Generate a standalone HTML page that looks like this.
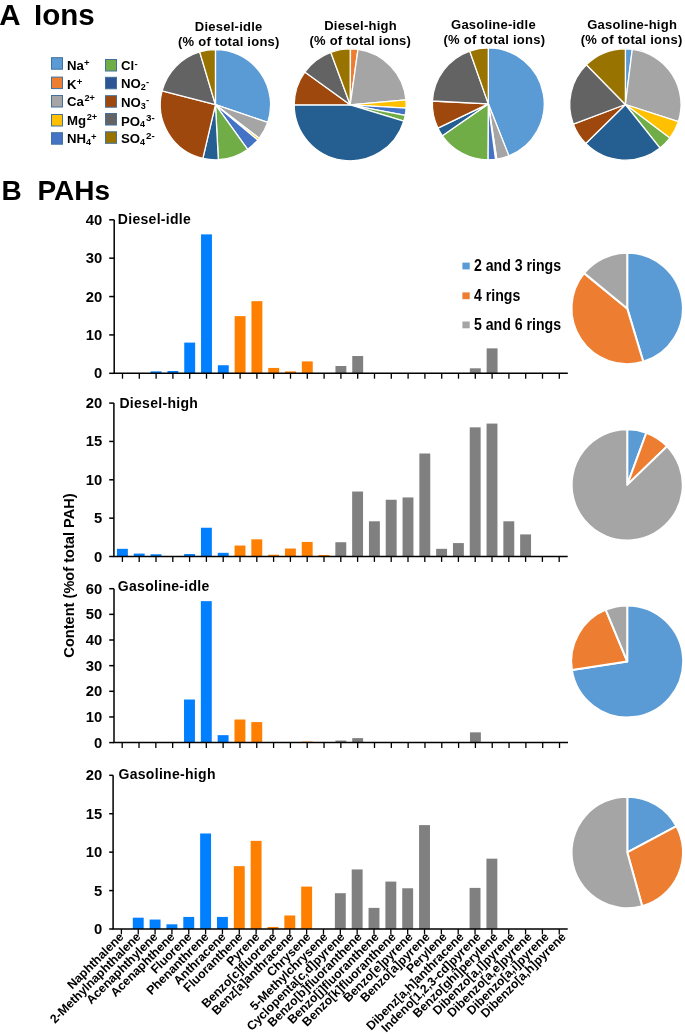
<!DOCTYPE html><html><head><meta charset="utf-8"><style>html,body{margin:0;padding:0;background:#fff;overflow:hidden;} svg{display:block;will-change:transform} text{font-family:"Liberation Sans",sans-serif;font-weight:bold;}</style></head><body>
<svg width="685" height="1034" viewBox="0 0 685 1034">
<rect width="685" height="1034" fill="#fff"/>
<text x="-0.8" y="24.8" font-size="29.5">A</text>
<text x="34" y="24.8" font-size="29.5">Ions</text>
<text x="1.5" y="199.8" font-size="28">B</text>
<text x="37.5" y="199.8" font-size="28">PAHs</text>
<rect x="51.5" y="57.7" width="11" height="11.5" fill="#5B9BD5" stroke="#41719C" stroke-width="1"/>
<text x="67" y="69.6" font-size="13.2">Na<tspan font-size="9.5" dx="0.2" dy="-3.8">+</tspan></text>
<rect x="51.5" y="77.1" width="11" height="11.5" fill="#ED7D31" stroke="#41719C" stroke-width="1"/>
<text x="67" y="88.6" font-size="13.2">K<tspan font-size="9.5" dx="0.2" dy="-3.8">+</tspan></text>
<rect x="51.5" y="95.5" width="11" height="11.5" fill="#A5A5A5" stroke="#41719C" stroke-width="1"/>
<text x="67" y="106.4" font-size="13.2">Ca<tspan font-size="9.2" dx="0.6" dy="-5.2">2+</tspan></text>
<rect x="51.5" y="114.5" width="11" height="11.5" fill="#FFC000" stroke="#41719C" stroke-width="1"/>
<text x="67" y="124.8" font-size="13.2">Mg<tspan font-size="9.2" dx="0.6" dy="-5.2">2+</tspan></text>
<rect x="51.5" y="132.7" width="11" height="11.5" fill="#4472C4" stroke="#41719C" stroke-width="1"/>
<text x="67" y="143.4" font-size="13.2">NH<tspan font-size="9" dy="1.9">4</tspan><tspan font-size="9.5" dx="0" dy="-5.4">+</tspan></text>
<rect x="105.5" y="59.5" width="11" height="11.5" fill="#70AD47" stroke="#41719C" stroke-width="1"/>
<text x="121" y="70.0" font-size="13.2">Cl<tspan font-size="9.5" dx="0.3" dy="-3.5">-</tspan></text>
<rect x="105.5" y="77.3" width="11" height="11.5" fill="#2D5596" stroke="#41719C" stroke-width="1"/>
<text x="121" y="88.3" font-size="13.2">NO<tspan font-size="9" dy="1.9">2</tspan><tspan font-size="9.5" dx="0.3" dy="-5.6">-</tspan></text>
<rect x="105.5" y="95.7" width="11" height="11.5" fill="#9E480E" stroke="#41719C" stroke-width="1"/>
<text x="121" y="106.7" font-size="13.2">NO<tspan font-size="9" dy="1.9">3</tspan><tspan font-size="9.5" dx="0.3" dy="-5.6">-</tspan></text>
<rect x="105.5" y="113.5" width="11" height="11.5" fill="#636363" stroke="#41719C" stroke-width="1"/>
<text x="121" y="125.5" font-size="13.2">PO<tspan font-size="9" dy="1.9">4</tspan><tspan font-size="9.8" dx="0.9" dy="-6.4">3-</tspan></text>
<rect x="105.5" y="131.8" width="11" height="11.5" fill="#997300" stroke="#41719C" stroke-width="1"/>
<text x="121" y="143.4" font-size="13.2">SO<tspan font-size="9" dy="1.9">4</tspan><tspan font-size="9.8" dx="0.9" dy="-6.4">2-</tspan></text>
<text x="228.67000000000002" y="31.0" font-size="13" letter-spacing="0.25" text-anchor="middle">Diesel-idle</text>
<text x="228.82" y="46.3" font-size="13" letter-spacing="0.25" text-anchor="middle">(% of total ions)</text>
<text x="360.57" y="29.6" font-size="13" letter-spacing="0.25" text-anchor="middle">Diesel-high</text>
<text x="360.27" y="44.6" font-size="13" letter-spacing="0.25" text-anchor="middle">(% of total ions)</text>
<text x="493.47" y="28.9" font-size="13" letter-spacing="0.25" text-anchor="middle">Gasoline-idle</text>
<text x="494.37" y="44.2" font-size="13" letter-spacing="0.25" text-anchor="middle">(% of total ions)</text>
<text x="632.12" y="28.7" font-size="13" letter-spacing="0.25" text-anchor="middle">Gasoline-high</text>
<text x="631.67" y="43.8" font-size="13" letter-spacing="0.25" text-anchor="middle">(% of total ions)</text>
<path d="M215.45,104.70 L215.45,49.55 A55.15,55.15 0 0 1 267.69,122.38 Z" fill="#5B9BD5" stroke="#fff" stroke-width="1.3" stroke-linejoin="round"/>
<path d="M215.45,104.70 L267.69,122.38 A55.15,55.15 0 0 1 259.14,138.35 Z" fill="#A5A5A5" stroke="#fff" stroke-width="1.3" stroke-linejoin="round"/>
<path d="M215.45,104.70 L259.14,138.35 A55.15,55.15 0 0 1 257.76,140.08 Z" fill="#FFC000" stroke="#fff" stroke-width="1.3" stroke-linejoin="round"/>
<path d="M215.45,104.70 L257.76,140.08 A55.15,55.15 0 0 1 247.63,149.49 Z" fill="#4472C4" stroke="#fff" stroke-width="1.3" stroke-linejoin="round"/>
<path d="M215.45,104.70 L247.63,149.49 A55.15,55.15 0 0 1 218.34,159.77 Z" fill="#70AD47" stroke="#fff" stroke-width="1.3" stroke-linejoin="round"/>
<path d="M215.45,104.70 L218.34,159.77 A55.15,55.15 0 0 1 202.86,158.39 Z" fill="#255E91" stroke="#fff" stroke-width="1.3" stroke-linejoin="round"/>
<path d="M215.45,104.70 L202.86,158.39 A55.15,55.15 0 0 1 162.06,90.89 Z" fill="#9E480E" stroke="#fff" stroke-width="1.3" stroke-linejoin="round"/>
<path d="M215.45,104.70 L162.06,90.89 A55.15,55.15 0 0 1 199.69,51.85 Z" fill="#636363" stroke="#fff" stroke-width="1.3" stroke-linejoin="round"/>
<path d="M215.45,104.70 L199.69,51.85 A55.15,55.15 0 0 1 215.45,49.55 Z" fill="#997300" stroke="#fff" stroke-width="1.3" stroke-linejoin="round"/>
<path d="M350.20,104.80 L350.20,48.80 A56.0,56.0 0 0 1 350.49,48.80 Z" fill="#5B9BD5" stroke="#fff" stroke-width="1.3" stroke-linejoin="round"/>
<path d="M350.20,104.80 L350.49,48.80 A56.0,56.0 0 0 1 357.99,49.34 Z" fill="#ED7D31" stroke="#fff" stroke-width="1.3" stroke-linejoin="round"/>
<path d="M350.20,104.80 L357.99,49.34 A56.0,56.0 0 0 1 405.99,99.92 Z" fill="#A5A5A5" stroke="#fff" stroke-width="1.3" stroke-linejoin="round"/>
<path d="M350.20,104.80 L405.99,99.92 A56.0,56.0 0 0 1 406.10,108.22 Z" fill="#FFC000" stroke="#fff" stroke-width="1.3" stroke-linejoin="round"/>
<path d="M350.20,104.80 L406.10,108.22 A56.0,56.0 0 0 1 405.21,115.29 Z" fill="#4472C4" stroke="#fff" stroke-width="1.3" stroke-linejoin="round"/>
<path d="M350.20,104.80 L405.21,115.29 A56.0,56.0 0 0 1 403.78,121.08 Z" fill="#70AD47" stroke="#fff" stroke-width="1.3" stroke-linejoin="round"/>
<path d="M350.20,104.80 L403.78,121.08 A56.0,56.0 0 0 1 294.20,104.80 Z" fill="#255E91" stroke="#fff" stroke-width="1.3" stroke-linejoin="round"/>
<path d="M350.20,104.80 L294.20,104.80 A56.0,56.0 0 0 1 304.78,72.04 Z" fill="#9E480E" stroke="#fff" stroke-width="1.3" stroke-linejoin="round"/>
<path d="M350.20,104.80 L304.78,72.04 A56.0,56.0 0 0 1 330.77,52.28 Z" fill="#636363" stroke="#fff" stroke-width="1.3" stroke-linejoin="round"/>
<path d="M350.20,104.80 L330.77,52.28 A56.0,56.0 0 0 1 350.20,48.80 Z" fill="#997300" stroke="#fff" stroke-width="1.3" stroke-linejoin="round"/>
<path d="M488.30,103.85 L488.30,47.90 A55.95,55.95 0 0 1 508.90,155.87 Z" fill="#5B9BD5" stroke="#fff" stroke-width="1.3" stroke-linejoin="round"/>
<path d="M488.30,103.85 L508.90,155.87 A55.95,55.95 0 0 1 496.76,159.16 Z" fill="#A5A5A5" stroke="#fff" stroke-width="1.3" stroke-linejoin="round"/>
<path d="M488.30,103.85 L496.76,159.16 A55.95,55.95 0 0 1 495.51,159.33 Z" fill="#FFC000" stroke="#fff" stroke-width="1.3" stroke-linejoin="round"/>
<path d="M488.30,103.85 L495.51,159.33 A55.95,55.95 0 0 1 487.91,159.80 Z" fill="#4472C4" stroke="#fff" stroke-width="1.3" stroke-linejoin="round"/>
<path d="M488.30,103.85 L487.91,159.80 A55.95,55.95 0 0 1 442.36,135.78 Z" fill="#70AD47" stroke="#fff" stroke-width="1.3" stroke-linejoin="round"/>
<path d="M488.30,103.85 L442.36,135.78 A55.95,55.95 0 0 1 437.88,128.11 Z" fill="#255E91" stroke="#fff" stroke-width="1.3" stroke-linejoin="round"/>
<path d="M488.30,103.85 L437.88,128.11 A55.95,55.95 0 0 1 432.42,101.02 Z" fill="#9E480E" stroke="#fff" stroke-width="1.3" stroke-linejoin="round"/>
<path d="M488.30,103.85 L432.42,101.02 A55.95,55.95 0 0 1 469.72,51.08 Z" fill="#636363" stroke="#fff" stroke-width="1.3" stroke-linejoin="round"/>
<path d="M488.30,103.85 L469.72,51.08 A55.95,55.95 0 0 1 488.30,47.90 Z" fill="#997300" stroke="#fff" stroke-width="1.3" stroke-linejoin="round"/>
<path d="M625.40,104.50 L625.40,48.85 A55.65,55.65 0 0 1 632.28,49.28 Z" fill="#5B9BD5" stroke="#fff" stroke-width="1.3" stroke-linejoin="round"/>
<path d="M625.40,104.50 L632.28,49.28 A55.65,55.65 0 0 1 678.33,121.70 Z" fill="#A5A5A5" stroke="#fff" stroke-width="1.3" stroke-linejoin="round"/>
<path d="M625.40,104.50 L678.33,121.70 A55.65,55.65 0 0 1 669.79,138.07 Z" fill="#FFC000" stroke="#fff" stroke-width="1.3" stroke-linejoin="round"/>
<path d="M625.40,104.50 L669.79,138.07 A55.65,55.65 0 0 1 660.04,148.05 Z" fill="#70AD47" stroke="#fff" stroke-width="1.3" stroke-linejoin="round"/>
<path d="M625.40,104.50 L660.04,148.05 A55.65,55.65 0 0 1 585.78,143.57 Z" fill="#255E91" stroke="#fff" stroke-width="1.3" stroke-linejoin="round"/>
<path d="M625.40,104.50 L585.78,143.57 A55.65,55.65 0 0 1 573.34,124.17 Z" fill="#9E480E" stroke="#fff" stroke-width="1.3" stroke-linejoin="round"/>
<path d="M625.40,104.50 L573.34,124.17 A55.65,55.65 0 0 1 586.39,64.81 Z" fill="#636363" stroke="#fff" stroke-width="1.3" stroke-linejoin="round"/>
<path d="M625.40,104.50 L586.39,64.81 A55.65,55.65 0 0 1 625.40,48.85 Z" fill="#997300" stroke="#fff" stroke-width="1.3" stroke-linejoin="round"/>
<rect x="150.65" y="371.38" width="10.9" height="1.92" fill="#007FFF"/>
<rect x="167.45" y="371.00" width="10.9" height="2.30" fill="#007FFF"/>
<rect x="184.25" y="342.60" width="10.9" height="30.70" fill="#007FFF"/>
<rect x="201.05" y="234.38" width="10.9" height="138.92" fill="#007FFF"/>
<rect x="217.85" y="365.24" width="10.9" height="8.06" fill="#007FFF"/>
<rect x="234.65" y="316.12" width="10.9" height="57.18" fill="#FF8000"/>
<rect x="251.45" y="301.16" width="10.9" height="72.14" fill="#FF8000"/>
<rect x="268.25" y="367.93" width="10.9" height="5.37" fill="#FF8000"/>
<rect x="285.05" y="371.38" width="10.9" height="1.92" fill="#FF8000"/>
<rect x="301.85" y="361.40" width="10.9" height="11.90" fill="#FF8000"/>
<rect x="335.45" y="366.01" width="10.9" height="7.29" fill="#808080"/>
<rect x="352.25" y="356.03" width="10.9" height="17.27" fill="#808080"/>
<rect x="469.85" y="368.31" width="10.9" height="4.99" fill="#808080"/>
<rect x="486.65" y="348.36" width="10.9" height="24.94" fill="#808080"/>
<path d="M114.2,219.8 V373.3 H567.80" fill="none" stroke="#000" stroke-width="1.5"/>
<line x1="109.2" y1="373.30" x2="114.2" y2="373.30" stroke="#000" stroke-width="1.5"/>
<text x="102.2" y="378.30" font-size="14.8" text-anchor="end">0</text>
<line x1="109.2" y1="334.93" x2="114.2" y2="334.93" stroke="#000" stroke-width="1.5"/>
<text x="102.2" y="339.93" font-size="14.8" text-anchor="end">10</text>
<line x1="109.2" y1="296.55" x2="114.2" y2="296.55" stroke="#000" stroke-width="1.5"/>
<text x="102.2" y="301.55" font-size="14.8" text-anchor="end">20</text>
<line x1="109.2" y1="258.18" x2="114.2" y2="258.18" stroke="#000" stroke-width="1.5"/>
<text x="102.2" y="263.18" font-size="14.8" text-anchor="end">30</text>
<line x1="109.2" y1="219.80" x2="114.2" y2="219.80" stroke="#000" stroke-width="1.5"/>
<text x="102.2" y="224.80" font-size="14.8" text-anchor="end">40</text>
<line x1="122.50" y1="373.3" x2="122.50" y2="378.7" stroke="#000" stroke-width="1.3"/>
<line x1="139.30" y1="373.3" x2="139.30" y2="378.7" stroke="#000" stroke-width="1.3"/>
<line x1="156.10" y1="373.3" x2="156.10" y2="378.7" stroke="#000" stroke-width="1.3"/>
<line x1="172.90" y1="373.3" x2="172.90" y2="378.7" stroke="#000" stroke-width="1.3"/>
<line x1="189.70" y1="373.3" x2="189.70" y2="378.7" stroke="#000" stroke-width="1.3"/>
<line x1="206.50" y1="373.3" x2="206.50" y2="378.7" stroke="#000" stroke-width="1.3"/>
<line x1="223.30" y1="373.3" x2="223.30" y2="378.7" stroke="#000" stroke-width="1.3"/>
<line x1="240.10" y1="373.3" x2="240.10" y2="378.7" stroke="#000" stroke-width="1.3"/>
<line x1="256.90" y1="373.3" x2="256.90" y2="378.7" stroke="#000" stroke-width="1.3"/>
<line x1="273.70" y1="373.3" x2="273.70" y2="378.7" stroke="#000" stroke-width="1.3"/>
<line x1="290.50" y1="373.3" x2="290.50" y2="378.7" stroke="#000" stroke-width="1.3"/>
<line x1="307.30" y1="373.3" x2="307.30" y2="378.7" stroke="#000" stroke-width="1.3"/>
<line x1="324.10" y1="373.3" x2="324.10" y2="378.7" stroke="#000" stroke-width="1.3"/>
<line x1="340.90" y1="373.3" x2="340.90" y2="378.7" stroke="#000" stroke-width="1.3"/>
<line x1="357.70" y1="373.3" x2="357.70" y2="378.7" stroke="#000" stroke-width="1.3"/>
<line x1="374.50" y1="373.3" x2="374.50" y2="378.7" stroke="#000" stroke-width="1.3"/>
<line x1="391.30" y1="373.3" x2="391.30" y2="378.7" stroke="#000" stroke-width="1.3"/>
<line x1="408.10" y1="373.3" x2="408.10" y2="378.7" stroke="#000" stroke-width="1.3"/>
<line x1="424.90" y1="373.3" x2="424.90" y2="378.7" stroke="#000" stroke-width="1.3"/>
<line x1="441.70" y1="373.3" x2="441.70" y2="378.7" stroke="#000" stroke-width="1.3"/>
<line x1="458.50" y1="373.3" x2="458.50" y2="378.7" stroke="#000" stroke-width="1.3"/>
<line x1="475.30" y1="373.3" x2="475.30" y2="378.7" stroke="#000" stroke-width="1.3"/>
<line x1="492.10" y1="373.3" x2="492.10" y2="378.7" stroke="#000" stroke-width="1.3"/>
<line x1="508.90" y1="373.3" x2="508.90" y2="378.7" stroke="#000" stroke-width="1.3"/>
<line x1="525.70" y1="373.3" x2="525.70" y2="378.7" stroke="#000" stroke-width="1.3"/>
<line x1="542.50" y1="373.3" x2="542.50" y2="378.7" stroke="#000" stroke-width="1.3"/>
<line x1="559.30" y1="373.3" x2="559.30" y2="378.7" stroke="#000" stroke-width="1.3"/>
<text x="117.8" y="223.5" font-size="14" letter-spacing="0.3">Diesel-idle</text>
<rect x="116.95" y="548.83" width="10.9" height="7.67" fill="#007FFF"/>
<rect x="133.75" y="553.59" width="10.9" height="2.91" fill="#007FFF"/>
<rect x="150.55" y="554.28" width="10.9" height="2.22" fill="#007FFF"/>
<rect x="184.15" y="554.05" width="10.9" height="2.45" fill="#007FFF"/>
<rect x="200.95" y="527.74" width="10.9" height="28.76" fill="#007FFF"/>
<rect x="217.75" y="552.82" width="10.9" height="3.68" fill="#007FFF"/>
<rect x="234.55" y="545.53" width="10.9" height="10.97" fill="#FF8000"/>
<rect x="251.35" y="539.32" width="10.9" height="17.18" fill="#FF8000"/>
<rect x="268.15" y="554.74" width="10.9" height="1.76" fill="#FF8000"/>
<rect x="284.95" y="548.52" width="10.9" height="7.98" fill="#FF8000"/>
<rect x="301.75" y="541.93" width="10.9" height="14.57" fill="#FF8000"/>
<rect x="318.55" y="554.97" width="10.9" height="1.53" fill="#FF8000"/>
<rect x="335.35" y="542.23" width="10.9" height="14.27" fill="#808080"/>
<rect x="352.15" y="491.54" width="10.9" height="64.96" fill="#808080"/>
<rect x="368.95" y="521.29" width="10.9" height="35.21" fill="#808080"/>
<rect x="385.75" y="499.74" width="10.9" height="56.76" fill="#808080"/>
<rect x="402.55" y="497.44" width="10.9" height="59.06" fill="#808080"/>
<rect x="419.35" y="453.49" width="10.9" height="103.01" fill="#808080"/>
<rect x="436.15" y="548.83" width="10.9" height="7.67" fill="#808080"/>
<rect x="452.95" y="543.08" width="10.9" height="13.42" fill="#808080"/>
<rect x="469.75" y="427.34" width="10.9" height="129.16" fill="#808080"/>
<rect x="486.55" y="423.58" width="10.9" height="132.92" fill="#808080"/>
<rect x="503.35" y="521.29" width="10.9" height="35.21" fill="#808080"/>
<rect x="520.15" y="534.41" width="10.9" height="22.09" fill="#808080"/>
<path d="M113.9,403.1 V556.5 H567.70" fill="none" stroke="#000" stroke-width="1.5"/>
<line x1="109.2" y1="556.50" x2="113.9" y2="556.50" stroke="#000" stroke-width="1.5"/>
<text x="102.2" y="561.50" font-size="14.8" text-anchor="end">0</text>
<line x1="109.2" y1="518.15" x2="113.9" y2="518.15" stroke="#000" stroke-width="1.5"/>
<text x="102.2" y="523.15" font-size="14.8" text-anchor="end">5</text>
<line x1="109.2" y1="479.80" x2="113.9" y2="479.80" stroke="#000" stroke-width="1.5"/>
<text x="102.2" y="484.80" font-size="14.8" text-anchor="end">10</text>
<line x1="109.2" y1="441.45" x2="113.9" y2="441.45" stroke="#000" stroke-width="1.5"/>
<text x="102.2" y="446.45" font-size="14.8" text-anchor="end">15</text>
<line x1="109.2" y1="403.10" x2="113.9" y2="403.10" stroke="#000" stroke-width="1.5"/>
<text x="102.2" y="408.10" font-size="14.8" text-anchor="end">20</text>
<line x1="122.40" y1="556.5" x2="122.40" y2="561.9" stroke="#000" stroke-width="1.3"/>
<line x1="139.20" y1="556.5" x2="139.20" y2="561.9" stroke="#000" stroke-width="1.3"/>
<line x1="156.00" y1="556.5" x2="156.00" y2="561.9" stroke="#000" stroke-width="1.3"/>
<line x1="172.80" y1="556.5" x2="172.80" y2="561.9" stroke="#000" stroke-width="1.3"/>
<line x1="189.60" y1="556.5" x2="189.60" y2="561.9" stroke="#000" stroke-width="1.3"/>
<line x1="206.40" y1="556.5" x2="206.40" y2="561.9" stroke="#000" stroke-width="1.3"/>
<line x1="223.20" y1="556.5" x2="223.20" y2="561.9" stroke="#000" stroke-width="1.3"/>
<line x1="240.00" y1="556.5" x2="240.00" y2="561.9" stroke="#000" stroke-width="1.3"/>
<line x1="256.80" y1="556.5" x2="256.80" y2="561.9" stroke="#000" stroke-width="1.3"/>
<line x1="273.60" y1="556.5" x2="273.60" y2="561.9" stroke="#000" stroke-width="1.3"/>
<line x1="290.40" y1="556.5" x2="290.40" y2="561.9" stroke="#000" stroke-width="1.3"/>
<line x1="307.20" y1="556.5" x2="307.20" y2="561.9" stroke="#000" stroke-width="1.3"/>
<line x1="324.00" y1="556.5" x2="324.00" y2="561.9" stroke="#000" stroke-width="1.3"/>
<line x1="340.80" y1="556.5" x2="340.80" y2="561.9" stroke="#000" stroke-width="1.3"/>
<line x1="357.60" y1="556.5" x2="357.60" y2="561.9" stroke="#000" stroke-width="1.3"/>
<line x1="374.40" y1="556.5" x2="374.40" y2="561.9" stroke="#000" stroke-width="1.3"/>
<line x1="391.20" y1="556.5" x2="391.20" y2="561.9" stroke="#000" stroke-width="1.3"/>
<line x1="408.00" y1="556.5" x2="408.00" y2="561.9" stroke="#000" stroke-width="1.3"/>
<line x1="424.80" y1="556.5" x2="424.80" y2="561.9" stroke="#000" stroke-width="1.3"/>
<line x1="441.60" y1="556.5" x2="441.60" y2="561.9" stroke="#000" stroke-width="1.3"/>
<line x1="458.40" y1="556.5" x2="458.40" y2="561.9" stroke="#000" stroke-width="1.3"/>
<line x1="475.20" y1="556.5" x2="475.20" y2="561.9" stroke="#000" stroke-width="1.3"/>
<line x1="492.00" y1="556.5" x2="492.00" y2="561.9" stroke="#000" stroke-width="1.3"/>
<line x1="508.80" y1="556.5" x2="508.80" y2="561.9" stroke="#000" stroke-width="1.3"/>
<line x1="525.60" y1="556.5" x2="525.60" y2="561.9" stroke="#000" stroke-width="1.3"/>
<line x1="542.40" y1="556.5" x2="542.40" y2="561.9" stroke="#000" stroke-width="1.3"/>
<line x1="559.20" y1="556.5" x2="559.20" y2="561.9" stroke="#000" stroke-width="1.3"/>
<text x="119.4" y="407.6" font-size="14" letter-spacing="0.3">Diesel-high</text>
<rect x="184.03" y="699.51" width="10.9" height="43.09" fill="#007FFF"/>
<rect x="200.85" y="601.14" width="10.9" height="141.46" fill="#007FFF"/>
<rect x="217.67" y="735.16" width="10.9" height="7.44" fill="#007FFF"/>
<rect x="234.49" y="719.51" width="10.9" height="23.08" fill="#FF8000"/>
<rect x="251.31" y="722.08" width="10.9" height="20.52" fill="#FF8000"/>
<rect x="301.77" y="741.57" width="10.9" height="1.03" fill="#FF8000"/>
<rect x="335.41" y="740.55" width="10.9" height="2.05" fill="#808080"/>
<rect x="352.23" y="738.11" width="10.9" height="4.49" fill="#808080"/>
<rect x="469.97" y="732.34" width="10.9" height="10.26" fill="#808080"/>
<path d="M114.0,588.7 V742.6 H568.02" fill="none" stroke="#000" stroke-width="1.5"/>
<line x1="109.2" y1="742.60" x2="114.0" y2="742.60" stroke="#000" stroke-width="1.5"/>
<text x="102.2" y="747.60" font-size="14.8" text-anchor="end">0</text>
<line x1="109.2" y1="716.95" x2="114.0" y2="716.95" stroke="#000" stroke-width="1.5"/>
<text x="102.2" y="721.95" font-size="14.8" text-anchor="end">10</text>
<line x1="109.2" y1="691.30" x2="114.0" y2="691.30" stroke="#000" stroke-width="1.5"/>
<text x="102.2" y="696.30" font-size="14.8" text-anchor="end">20</text>
<line x1="109.2" y1="665.65" x2="114.0" y2="665.65" stroke="#000" stroke-width="1.5"/>
<text x="102.2" y="670.65" font-size="14.8" text-anchor="end">30</text>
<line x1="109.2" y1="640.00" x2="114.0" y2="640.00" stroke="#000" stroke-width="1.5"/>
<text x="102.2" y="645.00" font-size="14.8" text-anchor="end">40</text>
<line x1="109.2" y1="614.35" x2="114.0" y2="614.35" stroke="#000" stroke-width="1.5"/>
<text x="102.2" y="619.35" font-size="14.8" text-anchor="end">50</text>
<line x1="109.2" y1="588.70" x2="114.0" y2="588.70" stroke="#000" stroke-width="1.5"/>
<text x="102.2" y="593.70" font-size="14.8" text-anchor="end">60</text>
<line x1="122.20" y1="742.6" x2="122.20" y2="748.0" stroke="#000" stroke-width="1.3"/>
<line x1="139.02" y1="742.6" x2="139.02" y2="748.0" stroke="#000" stroke-width="1.3"/>
<line x1="155.84" y1="742.6" x2="155.84" y2="748.0" stroke="#000" stroke-width="1.3"/>
<line x1="172.66" y1="742.6" x2="172.66" y2="748.0" stroke="#000" stroke-width="1.3"/>
<line x1="189.48" y1="742.6" x2="189.48" y2="748.0" stroke="#000" stroke-width="1.3"/>
<line x1="206.30" y1="742.6" x2="206.30" y2="748.0" stroke="#000" stroke-width="1.3"/>
<line x1="223.12" y1="742.6" x2="223.12" y2="748.0" stroke="#000" stroke-width="1.3"/>
<line x1="239.94" y1="742.6" x2="239.94" y2="748.0" stroke="#000" stroke-width="1.3"/>
<line x1="256.76" y1="742.6" x2="256.76" y2="748.0" stroke="#000" stroke-width="1.3"/>
<line x1="273.58" y1="742.6" x2="273.58" y2="748.0" stroke="#000" stroke-width="1.3"/>
<line x1="290.40" y1="742.6" x2="290.40" y2="748.0" stroke="#000" stroke-width="1.3"/>
<line x1="307.22" y1="742.6" x2="307.22" y2="748.0" stroke="#000" stroke-width="1.3"/>
<line x1="324.04" y1="742.6" x2="324.04" y2="748.0" stroke="#000" stroke-width="1.3"/>
<line x1="340.86" y1="742.6" x2="340.86" y2="748.0" stroke="#000" stroke-width="1.3"/>
<line x1="357.68" y1="742.6" x2="357.68" y2="748.0" stroke="#000" stroke-width="1.3"/>
<line x1="374.50" y1="742.6" x2="374.50" y2="748.0" stroke="#000" stroke-width="1.3"/>
<line x1="391.32" y1="742.6" x2="391.32" y2="748.0" stroke="#000" stroke-width="1.3"/>
<line x1="408.14" y1="742.6" x2="408.14" y2="748.0" stroke="#000" stroke-width="1.3"/>
<line x1="424.96" y1="742.6" x2="424.96" y2="748.0" stroke="#000" stroke-width="1.3"/>
<line x1="441.78" y1="742.6" x2="441.78" y2="748.0" stroke="#000" stroke-width="1.3"/>
<line x1="458.60" y1="742.6" x2="458.60" y2="748.0" stroke="#000" stroke-width="1.3"/>
<line x1="475.42" y1="742.6" x2="475.42" y2="748.0" stroke="#000" stroke-width="1.3"/>
<line x1="492.24" y1="742.6" x2="492.24" y2="748.0" stroke="#000" stroke-width="1.3"/>
<line x1="509.06" y1="742.6" x2="509.06" y2="748.0" stroke="#000" stroke-width="1.3"/>
<line x1="525.88" y1="742.6" x2="525.88" y2="748.0" stroke="#000" stroke-width="1.3"/>
<line x1="542.70" y1="742.6" x2="542.70" y2="748.0" stroke="#000" stroke-width="1.3"/>
<line x1="559.52" y1="742.6" x2="559.52" y2="748.0" stroke="#000" stroke-width="1.3"/>
<text x="117.8" y="591.2" font-size="14" letter-spacing="0.3">Gasoline-idle</text>
<rect x="132.79" y="917.70" width="10.9" height="11.30" fill="#007FFF"/>
<rect x="149.63" y="919.55" width="10.9" height="9.45" fill="#007FFF"/>
<rect x="166.47" y="924.31" width="10.9" height="4.69" fill="#007FFF"/>
<rect x="183.31" y="916.93" width="10.9" height="12.07" fill="#007FFF"/>
<rect x="200.15" y="833.48" width="10.9" height="95.52" fill="#007FFF"/>
<rect x="216.99" y="916.93" width="10.9" height="12.07" fill="#007FFF"/>
<rect x="233.83" y="866.14" width="10.9" height="62.86" fill="#FF8000"/>
<rect x="250.67" y="840.85" width="10.9" height="88.15" fill="#FF8000"/>
<rect x="267.51" y="926.93" width="10.9" height="2.07" fill="#FF8000"/>
<rect x="284.35" y="915.47" width="10.9" height="13.53" fill="#FF8000"/>
<rect x="301.19" y="886.58" width="10.9" height="42.42" fill="#FF8000"/>
<rect x="334.87" y="893.19" width="10.9" height="35.81" fill="#808080"/>
<rect x="351.71" y="869.44" width="10.9" height="59.56" fill="#808080"/>
<rect x="368.55" y="907.87" width="10.9" height="21.13" fill="#808080"/>
<rect x="385.39" y="881.58" width="10.9" height="47.42" fill="#808080"/>
<rect x="402.23" y="888.27" width="10.9" height="40.73" fill="#808080"/>
<rect x="419.07" y="825.10" width="10.9" height="103.90" fill="#808080"/>
<rect x="469.59" y="887.89" width="10.9" height="41.11" fill="#808080"/>
<rect x="486.43" y="858.68" width="10.9" height="70.32" fill="#808080"/>
<path d="M113.1,775.3 V929.0 H567.74" fill="none" stroke="#000" stroke-width="1.5"/>
<line x1="109.2" y1="929.00" x2="113.1" y2="929.00" stroke="#000" stroke-width="1.5"/>
<text x="102.2" y="934.00" font-size="14.8" text-anchor="end">0</text>
<line x1="109.2" y1="890.58" x2="113.1" y2="890.58" stroke="#000" stroke-width="1.5"/>
<text x="102.2" y="895.58" font-size="14.8" text-anchor="end">5</text>
<line x1="109.2" y1="852.15" x2="113.1" y2="852.15" stroke="#000" stroke-width="1.5"/>
<text x="102.2" y="857.15" font-size="14.8" text-anchor="end">10</text>
<line x1="109.2" y1="813.72" x2="113.1" y2="813.72" stroke="#000" stroke-width="1.5"/>
<text x="102.2" y="818.72" font-size="14.8" text-anchor="end">15</text>
<line x1="109.2" y1="775.30" x2="113.1" y2="775.30" stroke="#000" stroke-width="1.5"/>
<text x="102.2" y="780.30" font-size="14.8" text-anchor="end">20</text>
<line x1="121.40" y1="929.0" x2="121.40" y2="934.4" stroke="#000" stroke-width="1.3"/>
<line x1="138.24" y1="929.0" x2="138.24" y2="934.4" stroke="#000" stroke-width="1.3"/>
<line x1="155.08" y1="929.0" x2="155.08" y2="934.4" stroke="#000" stroke-width="1.3"/>
<line x1="171.92" y1="929.0" x2="171.92" y2="934.4" stroke="#000" stroke-width="1.3"/>
<line x1="188.76" y1="929.0" x2="188.76" y2="934.4" stroke="#000" stroke-width="1.3"/>
<line x1="205.60" y1="929.0" x2="205.60" y2="934.4" stroke="#000" stroke-width="1.3"/>
<line x1="222.44" y1="929.0" x2="222.44" y2="934.4" stroke="#000" stroke-width="1.3"/>
<line x1="239.28" y1="929.0" x2="239.28" y2="934.4" stroke="#000" stroke-width="1.3"/>
<line x1="256.12" y1="929.0" x2="256.12" y2="934.4" stroke="#000" stroke-width="1.3"/>
<line x1="272.96" y1="929.0" x2="272.96" y2="934.4" stroke="#000" stroke-width="1.3"/>
<line x1="289.80" y1="929.0" x2="289.80" y2="934.4" stroke="#000" stroke-width="1.3"/>
<line x1="306.64" y1="929.0" x2="306.64" y2="934.4" stroke="#000" stroke-width="1.3"/>
<line x1="323.48" y1="929.0" x2="323.48" y2="934.4" stroke="#000" stroke-width="1.3"/>
<line x1="340.32" y1="929.0" x2="340.32" y2="934.4" stroke="#000" stroke-width="1.3"/>
<line x1="357.16" y1="929.0" x2="357.16" y2="934.4" stroke="#000" stroke-width="1.3"/>
<line x1="374.00" y1="929.0" x2="374.00" y2="934.4" stroke="#000" stroke-width="1.3"/>
<line x1="390.84" y1="929.0" x2="390.84" y2="934.4" stroke="#000" stroke-width="1.3"/>
<line x1="407.68" y1="929.0" x2="407.68" y2="934.4" stroke="#000" stroke-width="1.3"/>
<line x1="424.52" y1="929.0" x2="424.52" y2="934.4" stroke="#000" stroke-width="1.3"/>
<line x1="441.36" y1="929.0" x2="441.36" y2="934.4" stroke="#000" stroke-width="1.3"/>
<line x1="458.20" y1="929.0" x2="458.20" y2="934.4" stroke="#000" stroke-width="1.3"/>
<line x1="475.04" y1="929.0" x2="475.04" y2="934.4" stroke="#000" stroke-width="1.3"/>
<line x1="491.88" y1="929.0" x2="491.88" y2="934.4" stroke="#000" stroke-width="1.3"/>
<line x1="508.72" y1="929.0" x2="508.72" y2="934.4" stroke="#000" stroke-width="1.3"/>
<line x1="525.56" y1="929.0" x2="525.56" y2="934.4" stroke="#000" stroke-width="1.3"/>
<line x1="542.40" y1="929.0" x2="542.40" y2="934.4" stroke="#000" stroke-width="1.3"/>
<line x1="559.24" y1="929.0" x2="559.24" y2="934.4" stroke="#000" stroke-width="1.3"/>
<text x="118.5" y="779.0" font-size="14" letter-spacing="0.3">Gasoline-high</text>
<text transform="translate(124.40,937.6) rotate(-45)" font-size="12.3" text-anchor="end">Naphthalene</text>
<text transform="translate(141.41,937.6) rotate(-45)" font-size="12.3" text-anchor="end">2-Methylnaphthalene</text>
<text transform="translate(158.41,937.6) rotate(-45)" font-size="12.3" text-anchor="end">Acenaphthylene</text>
<text transform="translate(175.42,937.6) rotate(-45)" font-size="12.3" text-anchor="end">Acenaphthene</text>
<text transform="translate(192.42,937.6) rotate(-45)" font-size="12.3" text-anchor="end">Fluorene</text>
<text transform="translate(209.43,937.6) rotate(-45)" font-size="12.3" text-anchor="end">Phenanthrene</text>
<text transform="translate(226.43,937.6) rotate(-45)" font-size="12.3" text-anchor="end">Anthracene</text>
<text transform="translate(243.44,937.6) rotate(-45)" font-size="12.3" text-anchor="end">Fluoranthene</text>
<text transform="translate(260.44,937.6) rotate(-45)" font-size="12.3" text-anchor="end">Pyrene</text>
<text transform="translate(277.44,937.6) rotate(-45)" font-size="12.3" text-anchor="end">Benzo[c]fluorene</text>
<text transform="translate(294.45,937.6) rotate(-45)" font-size="12.3" text-anchor="end">Benz[a]anthracene</text>
<text transform="translate(311.45,937.6) rotate(-45)" font-size="12.3" text-anchor="end">Chrysene</text>
<text transform="translate(328.46,937.6) rotate(-45)" font-size="12.3" text-anchor="end">5-Methylchrysene</text>
<text transform="translate(345.47,937.6) rotate(-45)" font-size="12.3" text-anchor="end">Cyclopenta[c,d]pyrene</text>
<text transform="translate(362.47,937.6) rotate(-45)" font-size="12.3" text-anchor="end">Benzo[b]fluoranthene</text>
<text transform="translate(379.48,937.6) rotate(-45)" font-size="12.3" text-anchor="end">Benzo[j]fluoranthene</text>
<text transform="translate(396.48,937.6) rotate(-45)" font-size="12.3" text-anchor="end">Benzo[k]fluoranthene</text>
<text transform="translate(413.49,937.6) rotate(-45)" font-size="12.3" text-anchor="end">Benzo[e]pyrene</text>
<text transform="translate(430.49,937.6) rotate(-45)" font-size="12.3" text-anchor="end">Benzo[a]pyrene</text>
<text transform="translate(447.50,937.6) rotate(-45)" font-size="12.3" text-anchor="end">Perylene</text>
<text transform="translate(464.50,937.6) rotate(-45)" font-size="12.3" text-anchor="end">Dibenz[a,h]anthracene</text>
<text transform="translate(481.50,937.6) rotate(-45)" font-size="12.3" text-anchor="end">Indeno[1,2,3-cd]pyrene</text>
<text transform="translate(498.51,937.6) rotate(-45)" font-size="12.3" text-anchor="end">Benzo[ghi]perylene</text>
<text transform="translate(515.51,937.6) rotate(-45)" font-size="12.3" text-anchor="end">Dibenzo[a,l]pyrene</text>
<text transform="translate(532.52,937.6) rotate(-45)" font-size="12.3" text-anchor="end">Dibenzo[a,e]pyrene</text>
<text transform="translate(549.52,937.6) rotate(-45)" font-size="12.3" text-anchor="end">Dibenzo[a,i]pyrene</text>
<text transform="translate(566.53,937.6) rotate(-45)" font-size="12.3" text-anchor="end">Dibenzo[a,h]pyrene</text>
<text transform="translate(74,575.5) rotate(-90)" font-size="14.6" text-anchor="middle">Content (%of total PAH)</text>
<rect x="462.4" y="262.6" width="7.3" height="6.8" fill="#5B9BD5"/>
<text transform="translate(474.0,270.9) scale(0.883,1)" font-size="16">2 and 3 rings</text>
<rect x="462.4" y="292.4" width="7.3" height="6.8" fill="#ED7D31"/>
<text transform="translate(474.0,300.7) scale(0.883,1)" font-size="16">4 rings</text>
<rect x="462.4" y="321.5" width="7.3" height="6.8" fill="#A5A5A5"/>
<text transform="translate(474.0,329.8) scale(0.883,1)" font-size="16">5 and 6 rings</text>
<path d="M627.20,308.40 L627.20,252.70 A55.7,55.7 0 0 1 643.30,361.72 Z" fill="#5B9BD5" stroke="#fff" stroke-width="2.0" stroke-linejoin="round"/>
<path d="M627.20,308.40 L643.30,361.72 A55.7,55.7 0 0 1 584.10,273.12 Z" fill="#ED7D31" stroke="#fff" stroke-width="2.0" stroke-linejoin="round"/>
<path d="M627.20,308.40 L584.10,273.12 A55.7,55.7 0 0 1 627.20,252.70 Z" fill="#A5A5A5" stroke="#fff" stroke-width="2.0" stroke-linejoin="round"/>
<path d="M627.20,484.90 L627.20,429.35 A55.55,55.55 0 0 1 646.38,432.77 Z" fill="#5B9BD5" stroke="#fff" stroke-width="2.0" stroke-linejoin="round"/>
<path d="M627.20,484.90 L646.38,432.77 A55.55,55.55 0 0 1 667.09,446.24 Z" fill="#ED7D31" stroke="#fff" stroke-width="2.0" stroke-linejoin="round"/>
<path d="M627.20,484.90 L667.09,446.24 A55.55,55.55 0 1 1 627.20,429.35 Z" fill="#A5A5A5" stroke="#fff" stroke-width="2.0" stroke-linejoin="round"/>
<path d="M627.20,661.40 L627.20,605.40 A56.0,56.0 0 1 1 571.86,669.97 Z" fill="#5B9BD5" stroke="#fff" stroke-width="2.0" stroke-linejoin="round"/>
<path d="M627.20,661.40 L571.86,669.97 A56.0,56.0 0 0 1 605.68,609.70 Z" fill="#ED7D31" stroke="#fff" stroke-width="2.0" stroke-linejoin="round"/>
<path d="M627.20,661.40 L605.68,609.70 A56.0,56.0 0 0 1 627.20,605.40 Z" fill="#A5A5A5" stroke="#fff" stroke-width="2.0" stroke-linejoin="round"/>
<path d="M627.30,852.40 L627.30,796.65 A55.75,55.75 0 0 1 676.52,826.23 Z" fill="#5B9BD5" stroke="#fff" stroke-width="2.0" stroke-linejoin="round"/>
<path d="M627.30,852.40 L676.52,826.23 A55.75,55.75 0 0 1 642.20,906.12 Z" fill="#ED7D31" stroke="#fff" stroke-width="2.0" stroke-linejoin="round"/>
<path d="M627.30,852.40 L642.20,906.12 A55.75,55.75 0 1 1 627.30,796.65 Z" fill="#A5A5A5" stroke="#fff" stroke-width="2.0" stroke-linejoin="round"/>
</svg></body></html>
